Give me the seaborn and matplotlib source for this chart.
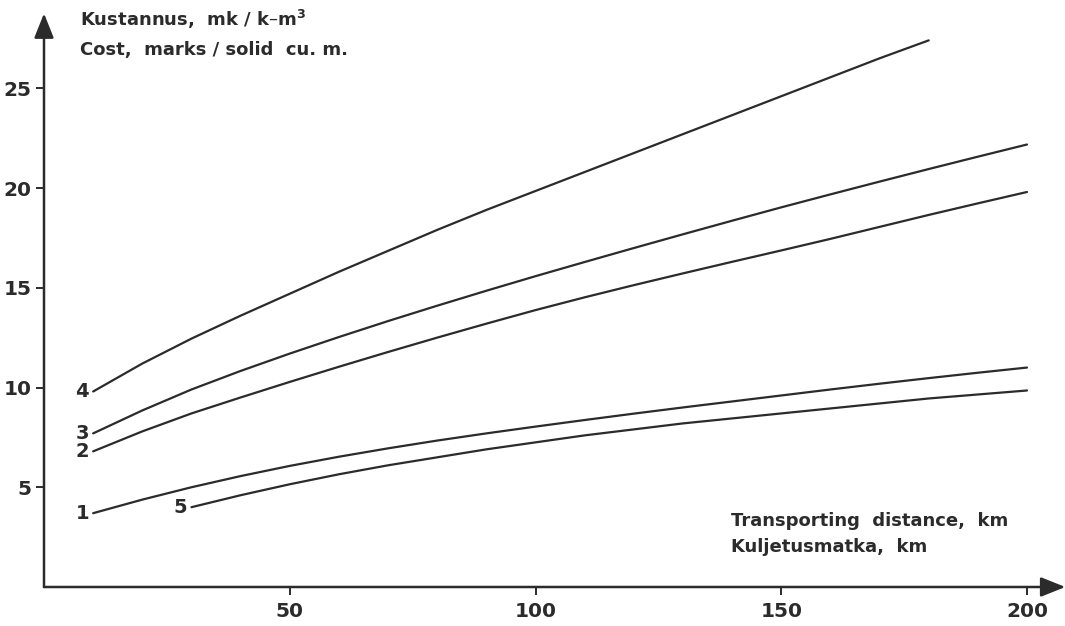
import numpy as np
import pandas as pd
import matplotlib
matplotlib.use("Agg")
import matplotlib.pyplot as plt
import seaborn as sns

# ---- data ----
dist_full = [10, 20, 30, 40, 50, 60, 70, 80, 90, 100, 110, 120, 130, 140, 150, 160, 170, 180, 190, 200]
dist_4 = [10, 20, 30, 40, 50, 60, 70, 80, 90, 100, 110, 120, 130, 140, 150, 160, 170, 180]
dist_5 = [30, 40, 50, 60, 70, 80, 90, 100, 110, 120, 130, 140, 150, 160, 170, 180, 190, 200]

cost_1 = [3.7, 4.38, 5.0, 5.56, 6.07, 6.53, 6.95, 7.34, 7.7, 8.04, 8.37, 8.69, 9.0, 9.3, 9.6, 9.9, 10.19, 10.47, 10.74, 11.0]
cost_2 = [6.8, 7.8, 8.7, 9.5, 10.28, 11.04, 11.78, 12.5, 13.2, 13.88, 14.52, 15.13, 15.72, 16.3, 16.87, 17.45, 18.05, 18.65, 19.23, 19.8]
cost_3 = [7.7, 8.85, 9.9, 10.83, 11.7, 12.53, 13.33, 14.1, 14.85, 15.58, 16.29, 16.99, 17.68, 18.36, 19.03, 19.68, 20.32, 20.95, 21.57, 22.18]
cost_4 = [9.8, 11.2, 12.45, 13.6, 14.7, 15.8, 16.85, 17.9, 18.9, 19.85, 20.8, 21.75, 22.7, 23.65, 24.6, 25.55, 26.5, 27.4]
cost_5 = [4.0, 4.6, 5.15, 5.65, 6.1, 6.5, 6.9, 7.25, 7.6, 7.9, 8.2, 8.45, 8.7, 8.95, 9.2, 9.45, 9.65, 9.85]

curve_names = ["1", "2", "3", "4", "5"]
x_ticks = [50, 100, 150, 200]
y_ticks = [5, 10, 15, 20, 25]

y_title = ["Kustannus,  mk / k\u2013m$^{\\mathbf{3}}$", "Cost,  marks / solid  cu. m."]
x_title = ["Transporting  distance,  km", "Kuljetusmatka,  km"]

series = {
    "1": (dist_full, cost_1),
    "2": (dist_full, cost_2),
    "3": (dist_full, cost_3),
    "4": (dist_4, cost_4),
    "5": (dist_5, cost_5),
}

rows = []
for name in curve_names:
    xs, ys = series[name]
    for xv, yv in zip(xs, ys):
        rows.append({"distance": xv, "cost": yv, "curve": name})
df = pd.DataFrame(rows)

# ---- style ----
sns.set_theme(style="white")
plt.rcParams["font.family"] = ["DejaVu Sans"]
plt.rcParams["mathtext.fontset"] = "dejavusans"
INK = "#2b2b2b"

W, H = 1065, 626
fig = plt.figure(figsize=(W / 100, H / 100), dpi=100)
x0_px, y0_px = 44, 587
px_per_x = 4.915
px_per_y = 19.95
xmax = 207.8
ymax = 28.75
ax = fig.add_axes([x0_px / W, (H - y0_px) / H, xmax * px_per_x / W, ymax * px_per_y / H])

sns.lineplot(data=df, x="distance", y="cost", hue="curve", units="curve",
             estimator=None, palette=[INK] * len(curve_names), linewidth=1.6,
             legend=False, ax=ax, sort=True)

ax.set_xlim(0, xmax)
ax.set_ylim(0, ymax)
ax.set_xticks(x_ticks)
ax.set_yticks(y_ticks)
ax.set_xlabel("")
ax.set_ylabel("")
for s in ax.spines.values():
    s.set_visible(False)
ax.tick_params(axis="both", direction="out", length=6, width=1.4, color=INK,
               labelsize=14.5, labelcolor=INK, pad=3)
ax.tick_params(axis="x", pad=5)
for lab in ax.get_xticklabels() + ax.get_yticklabels():
    lab.set_fontweight("bold")
ax.tick_params(left=True, bottom=True)

# axes with arrows
arrow_kw = dict(arrowstyle="-|>,head_length=15,head_width=6", lw=1.8, color=INK,
                shrinkA=0, shrinkB=0, mutation_scale=1)
ax.annotate("", xy=(1.0, 0), xytext=(0, 0), xycoords="axes fraction",
            arrowprops=arrow_kw, annotation_clip=False)
ax.annotate("", xy=(0, 1.0), xytext=(0, 0), xycoords="axes fraction",
            arrowprops=arrow_kw, annotation_clip=False)

# curve number labels next to the start of each curve
for name in curve_names:
    xs, ys = series[name]
    ax.text(xs[0] - 2.2, ys[0], name, ha="center", va="center", fontsize=14,
            fontweight="bold", color=INK)

# axis titles
title_kw = dict(ha="left", va="baseline", fontsize=13, fontweight="bold", color=INK)
fig.text(80 / W, 1 - 26 / H, y_title[0], **title_kw)
fig.text(80 / W, 1 - 55 / H, y_title[1], **title_kw)
fig.text(731 / W, 1 - 526 / H, x_title[0], **title_kw)
fig.text(731 / W, 1 - 552 / H, x_title[1], **title_kw)

fig.savefig("out.png", dpi=100)
